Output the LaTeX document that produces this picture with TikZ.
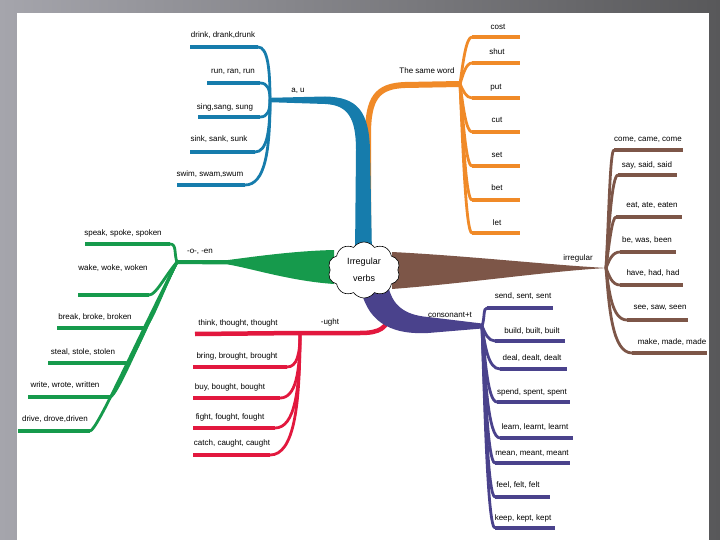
\documentclass[tikz,border=0pt]{standalone}
\usepackage{fontspec}
\setmainfont{Liberation Sans}
\usetikzlibrary{shapes.symbols}
\definecolor{cblue}{RGB}{22,124,172}
\definecolor{corange}{RGB}{240,138,40}
\definecolor{cbrown}{RGB}{125,86,72}
\definecolor{cgreen}{RGB}{22,154,76}
\definecolor{cred}{RGB}{226,24,62}
\definecolor{cpurple}{RGB}{74,66,140}
\definecolor{bgL}{RGB}{165,165,172}
\definecolor{bgR}{RGB}{88,88,90}
\begin{document}
\begin{tikzpicture}[x=1pt,y=-1pt,
  lbl/.style={font=\fontsize{8}{9}\selectfont, inner sep=0pt},
  bar/.style={line width=4.5pt},
  conn/.style={line width=2.8pt, line cap=round},
]
\useasboundingbox (0,0) rectangle (720,540);
\shade[left color=bgL, right color=bgR] (0,0) rectangle (720,540);
\fill[white] (17,13) rectangle (709,540);

% junctions
\coordinate (Jb) at (270,100);
\coordinate (Jo) at (460,84);
\coordinate (Jr) at (606,268);
\coordinate (Jg) at (177,262);
\coordinate (Jd) at (300,333);
\coordinate (Jp) at (482,326);

% main trunks
\draw[corange, line width=6pt] (368,250) -- (368,135) .. controls (368,98) and (377,86) .. (405,85) -- (Jo);
\fill[cblue] (372,255) -- (370,150) .. controls (369,112) and (358,97) .. (325,96.5) -- (270,97.8) -- (270,102.2) -- (325,104) .. controls (348,105) and (356,118) .. (356,150) -- (355,255) -- cycle;
\draw[cred, line width=4.5pt] (390,312) .. controls (388,328) and (380,333) .. (360,333) -- (Jd);
\fill[cpurple] (360,285) .. controls (366,320) and (388,335) .. (428,333) -- (482,328.5) -- (482,323.5) -- (428,317) .. controls (404,315) and (392,305) .. (388,285) -- cycle;
\fill[cbrown] (392,252) .. controls (470,256) and (550,265) .. (607,268) .. controls (550,271) and (470,283) .. (392,289) -- cycle;
\fill[cgreen] (334,250) .. controls (290,251) and (245,258) .. (228,260) -- (177,260.2) -- (177,264) -- (228,264.5) .. controls (250,268) and (290,281) .. (334,284) -- cycle;

% blue leaves
\foreach \i/\t/\tx/\ty/\xl/\xr/\yb in {
  1/{drink, drank,drunk}/223/35/190/258/47,
  2/{run, ran, run}/233/72/207/260/83,
  3/{sing,sang, sung}/225/107/198/260/117,
  4/{sink, sank, sunk}/219/139/190/255/152,
  5/{swim, swam,swum}/210/174/177/245/185}{
  \node[lbl] (tb\i) at (\tx,\ty) {\t};
  \coordinate (bbl\i) at (\xl,\yb);
  \coordinate (bbr\i) at (\xr,\yb);
  \draw[cblue,bar] (bbl\i) -- (bbr\i);
  \pgfmathsetmacro\k{(270-\xr)*0.8}
  \pgfmathsetmacro\m{(\yb-100)*0.6}
  \draw[cblue,conn] (bbr\i) .. controls +(\k,0) and +(0,\m) .. (Jb);
}

% orange leaves
\foreach \i/\t/\tx/\ty/\xl/\xr/\yb in {
  1/cost/498/27/472/520/37,
  2/shut/497/52/472/520/63,
  3/put/496/88/472/520/98,
  4/cut/497/120/472/520/132,
  5/set/497/155/472/520/166,
  6/bet/497/188/472/520/200,
  7/let/497/223/472/520/233}{
  \node[lbl] (to\i) at (\tx,\ty) {\t};
  \coordinate (obl\i) at (\xl,\yb);
  \coordinate (obr\i) at (\xr,\yb);
  \draw[corange,bar] (obl\i) -- (obr\i);
  \pgfmathsetmacro\ma{84+(\yb-84)*0.45}
  \pgfmathsetmacro\cx{min(466,\xl-4)}
  \draw[corange,conn] (Jo) .. controls (463,\ma) and (\cx,\yb) .. (obl\i);
}

% brown leaves
\foreach \i/\t/\tx/\ty/\xl/\xr/\yb in {
  1/{come, came, come}/648/140/614/683/150,
  2/{say, said, said}/647/165/618/677/175,
  3/{eat, ate, eaten}/652/205/616/682/217,
  4/{be, was, been}/647/240/620/676/252,
  5/{have, had, had}/653/273/620/683/285,
  6/{see, saw, seen}/660/308/627/688/320,
  7/{make, made, made}/672/342/632/707/353}{
  \node[lbl] (tr\i) at (\tx,\ty) {\t};
  \coordinate (rbl\i) at (\xl,\yb);
  \coordinate (rbr\i) at (\xr,\yb);
  \draw[cbrown,bar] (rbl\i) -- (rbr\i);
  \pgfmathsetmacro\ma{268+(\yb-268)*0.45}
  \pgfmathsetmacro\cx{min(612,\xl-4)}
  \draw[cbrown,conn] (Jr) .. controls (609,\ma) and (\cx,\yb) .. (rbl\i);
}

% purple leaves
\foreach \i/\t/\tx/\ty/\xl/\xr/\yb in {
  1/{send, sent, sent}/523/296/487/553/308,
  2/{build, built, built}/532/331/495/565/341,
  3/{deal, dealt, dealt}/532/358/500/567/369,
  4/{spend, spent, spent}/532/392/497/570/402,
  5/{learn, learnt, learnt}/535/427/500/573/438,
  6/{mean, meant, meant}/532/453/495/570/463,
  7/{feel, felt, felt}/518/485/495/550/497,
  8/{keep, kept, kept}/523/518/495/555/528}{
  \node[lbl] (tp\i) at (\tx,\ty) {\t};
  \coordinate (pbl\i) at (\xl,\yb);
  \coordinate (pbr\i) at (\xr,\yb);
  \draw[cpurple,bar] (pbl\i) -- (pbr\i);
  \pgfmathsetmacro\ma{326+(\yb-326)*0.45}
  \pgfmathsetmacro\cx{min(488,\xl-4)}
  \draw[cpurple,conn] (Jp) .. controls (485,\ma) and (\cx,\yb) .. (pbl\i);
}

% green leaves
\foreach \i/\t/\tx/\ty/\xl/\xr/\yb in {
  1/{speak, spoke, spoken}/123/233/85/170/244,
  2/{wake, woke, woken}/113/268/78/149/295,
  3/{break, broke, broken}/95/317/57/143/328,
  4/{steal, stole, stolen}/83/352/48/126/363,
  5/{write, wrote, written}/65/385/28/110/397,
  6/{drive, drove,driven}/55/419/18/90/431}{
  \node[lbl] (tg\i) at (\tx,\ty) {\t};
  \coordinate (gbl\i) at (\xl,\yb);
  \coordinate (gbr\i) at (\xr,\yb);
  \draw[cgreen,bar] (gbl\i) -- (gbr\i);
  \pgfmathsetmacro\cxx{177+0.45*(\xr-177)}
  \pgfmathsetmacro\cyy{262+0.45*(\yb-262)}
  \draw[cgreen,conn] (gbr\i) .. controls +(7,0) and (\cxx,\cyy) .. (Jg);
}

% red leaves
\node[lbl] (td1) at (238,323) {think, thought, thought};
\coordinate (dbl1) at (195,334);
\draw[cred,bar] (dbl1) -- (Jd);
\foreach \i/\t/\tx/\ty/\xl/\xr/\yb in {
  2/{bring, brought, brought}/237/356/193/287/367,
  3/{buy, bought, bought}/230/387/193/280/398,
  4/{fight, fought, fought}/230/417/193/275/428,
  5/{catch, caught, caught}/232/443/193/270/455}{
  \node[lbl] (td\i) at (\tx,\ty) {\t};
  \coordinate (dbl\i) at (\xl,\yb);
  \coordinate (dbr\i) at (\xr,\yb);
  \draw[cred,bar] (dbl\i) -- (dbr\i);
  \pgfmathsetmacro\k{(300-\xr)*0.8}
  \pgfmathsetmacro\m{(\yb-333)*0.6}
  \draw[cred,conn] (dbr\i) .. controls +(\k,0) and +(0,\m) .. (Jd);
}

% branch labels
\node[lbl] (lau) at (298,91) {a, u};
\node[lbl] (lsame) at (427,71) {The same word};
\node[lbl] (lirr) at (578,258) {irregular};
\node[lbl] (loen) at (200,252) {-o-, -en};
\node[lbl] (lught) at (330,322) {-ught};
\node[lbl] (lcons) at (450,315) {consonant+t};

% centre
\node[cloud, cloud puffs=10, cloud puff arc=110, aspect=1.3, draw=black, fill=white,
  line width=0.6pt, minimum width=72pt, minimum height=56pt, inner sep=0pt,
  align=center, font=\fontsize{9}{17}\selectfont] (centre) at (364,270) {Irregular\\verbs};
\end{tikzpicture}
\end{document}
